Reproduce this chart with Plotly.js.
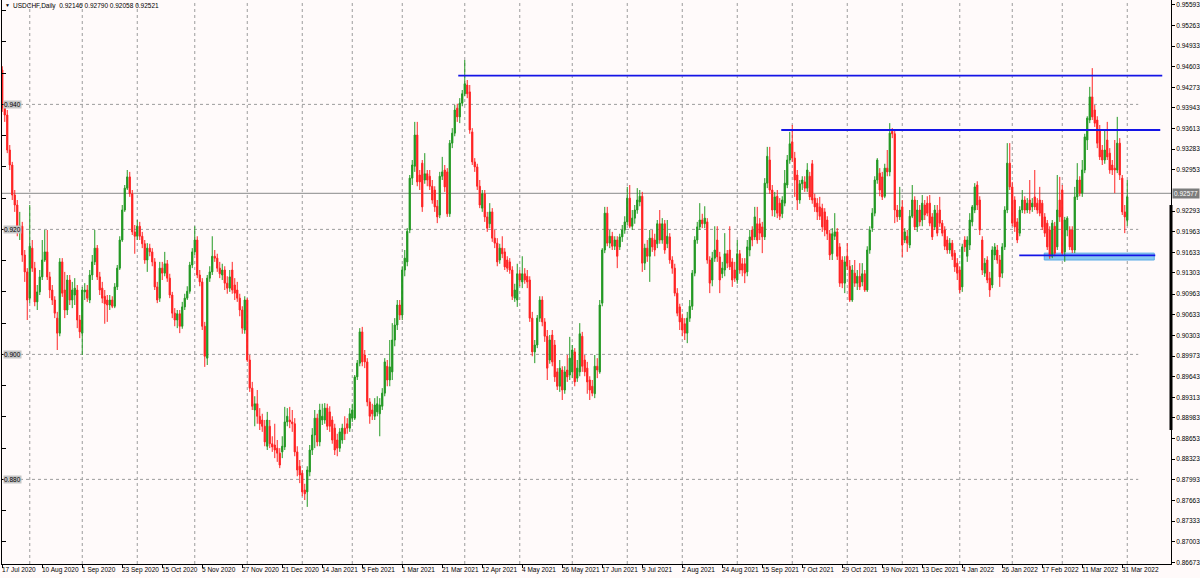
<!DOCTYPE html>
<html><head><meta charset="utf-8">
<script src="https://cdn.plot.ly/plotly-3.0.1.min.js"></script>
<style>html,body{margin:0;padding:0;background:#fffafa;}#chart{width:1200px;height:578px;}</style>
</head><body><div id="chart"></div>
<script>
const symbolTitle = 'USDCHF,Daily';
const lastBarOHLC = ['0.92146', '0.92790', '0.92058', '0.92521'];

const open = [
0.9455,0.9394,0.9383,0.9327,0.9303,0.9255,0.9239,0.9196,0.9205,0.9159,
0.9132,0.9090,0.9170,0.9138,0.9084,0.9100,0.9124,0.9151,0.9164,0.9124,
0.9103,0.9087,0.9058,0.9034,0.9148,0.9103,0.9071,0.9119,0.9087,0.9095,
0.9103,0.9055,0.9034,0.9100,0.9103,0.9087,0.9127,0.9148,0.9170,0.9124,
0.9106,0.9093,0.9087,0.9079,0.9087,0.9077,0.9108,0.9138,0.9183,0.9231,
0.9266,0.9284,0.9257,0.9196,0.9189,0.9205,0.9189,0.9177,0.9151,0.9170,
0.9164,0.9148,0.9108,0.9090,0.9138,0.9130,0.9145,0.9122,0.9095,0.9066,
0.9055,0.9065,0.9045,0.9076,0.9090,0.9101,0.9143,0.9164,0.9183,0.9127,
0.9116,0.9045,0.8994,0.9122,0.9132,0.9157,0.9154,0.9138,0.9127,0.9135,
0.9114,0.9106,0.9135,0.9111,0.9103,0.9090,0.9071,0.9039,0.9087,0.8991,
0.8946,0.8911,0.8921,0.8901,0.8895,0.8885,0.8853,0.8885,0.8857,0.8855,
0.8850,0.8842,0.8844,0.8852,0.8892,0.8895,0.8892,0.8889,0.8844,0.8821,
0.8810,0.8783,0.8780,0.8812,0.8847,0.8871,0.8898,0.8860,0.8895,0.8895,
0.8914,0.8908,0.8895,0.8882,0.8863,0.8850,0.8863,0.8882,0.8889,0.8882,
0.8898,0.8898,0.8964,0.8986,0.9036,0.8999,0.8988,0.8924,0.8911,0.8901,
0.8908,0.8905,0.8917,0.8938,0.8981,0.8959,0.8972,0.9023,0.9047,0.9079,
0.9063,0.9135,0.9148,0.9199,0.9282,0.9301,0.9351,0.9287,0.9306,0.9279,
0.9289,0.9285,0.9269,0.9263,0.9237,0.9223,0.9285,0.9295,0.9292,0.9225,
0.9338,0.9354,0.9394,0.9380,0.9402,0.9417,0.9431,0.9420,0.9356,0.9308,
0.9300,0.9269,0.9234,0.9257,0.9220,0.9209,0.9228,0.9186,0.9178,0.9151,
0.9170,0.9164,0.9151,0.9148,0.9135,0.9090,0.9087,0.9129,0.9116,0.9129,
0.9125,0.9119,0.9058,0.9004,0.9015,0.9058,0.9087,0.9052,0.9029,0.8991,
0.9031,0.9015,0.8972,0.8949,0.8975,0.8943,0.8975,0.8967,0.8972,0.9004,
0.8962,0.8972,0.9029,0.8991,0.8978,0.8959,0.8949,0.8937,0.8981,0.8972,
0.9082,0.9167,0.9226,0.9178,0.9189,0.9173,0.9183,0.9172,0.9188,0.9199,
0.9212,0.9250,0.9205,0.9218,0.9231,0.9244,0.9253,0.9146,0.9170,0.9157,
0.9186,0.9183,0.9177,0.9209,0.9183,0.9209,0.9177,0.9188,0.9151,0.9138,
0.9098,0.9076,0.9058,0.9049,0.9034,0.9058,0.9077,0.9130,0.9183,0.9204,
0.9215,0.9209,0.9212,0.9151,0.9119,0.9154,0.9183,0.9156,0.9129,0.9135,
0.9161,0.9167,0.9148,0.9135,0.9119,0.9161,0.9145,0.9145,0.9132,0.9167,
0.9199,0.9188,0.9209,0.9209,0.9204,0.9188,0.9274,0.9311,0.9263,0.9231,
0.9253,0.9242,0.9225,0.9242,0.9271,0.9311,0.9340,0.9314,0.9287,0.9247,
0.9273,0.9276,0.9266,0.9285,0.9305,0.9250,0.9242,0.9236,0.9234,0.9228,
0.9215,0.9193,0.9161,0.9189,0.9196,0.9172,0.9151,0.9114,0.9157,0.9141,
0.9087,0.9130,0.9114,0.9125,0.9116,0.9129,0.9103,0.9167,0.9202,0.9226,
0.9279,0.9290,0.9284,0.9253,0.9298,0.9292,0.9357,0.9353,0.9231,0.9220,
0.9236,0.9183,0.9189,0.9175,0.9221,0.9247,0.9204,0.9231,0.9215,0.9239,
0.9242,0.9242,0.9220,0.9204,0.9226,0.9231,0.9210,0.9199,0.9183,0.9167,
0.9178,0.9162,0.9146,0.9135,0.9108,0.9183,0.9157,0.9175,0.9212,0.9231,
0.9271,0.9247,0.9183,0.9130,0.9151,0.9122,0.9111,0.9159,0.9167,0.9151,
0.9130,0.9172,0.9231,0.9306,0.9268,0.9247,0.9212,0.9194,0.9231,0.9247,
0.9231,0.9247,0.9236,0.9252,0.9242,0.9247,0.9242,0.9220,0.9210,0.9199,
0.9157,0.9205,0.9172,0.9247,0.9263,0.9164,0.9199,0.9199,0.9199,0.9167,
0.9252,0.9279,0.9258,0.9295,0.9343,0.9375,0.9412,0.9391,0.9375,0.9359,
0.9327,0.9311,0.9343,0.9322,0.9303,0.9298,0.9295,0.9338,0.9282,0.9228,
0.92146];

const high = [
0.9461,0.9404,0.9391,0.9335,0.9308,0.9263,0.9247,0.9228,0.9212,0.9167,
0.9138,0.9239,0.9183,0.9148,0.9111,0.9135,0.9183,0.9199,0.9199,0.9132,
0.9111,0.9093,0.9068,0.9154,0.9154,0.9132,0.9127,0.9127,0.9116,0.9122,
0.9111,0.9063,0.9108,0.9114,0.9111,0.9135,0.9159,0.9199,0.9175,0.9132,
0.9116,0.9103,0.9095,0.9095,0.9093,0.9114,0.9143,0.9189,0.9239,0.9271,
0.9295,0.9292,0.9263,0.9207,0.9215,0.9212,0.9196,0.9183,0.9178,0.9177,
0.9170,0.9154,0.9116,0.9148,0.9148,0.9164,0.9151,0.9129,0.9100,0.9074,
0.9071,0.9071,0.9084,0.9097,0.9109,0.9148,0.9170,0.9205,0.9189,0.9135,
0.9122,0.9052,0.9127,0.9141,0.9189,0.9167,0.9161,0.9148,0.9145,0.9141,
0.9125,0.9135,0.9148,0.9122,0.9116,0.9097,0.9077,0.9093,0.9090,0.8999,
0.8956,0.8933,0.8943,0.8914,0.8905,0.8895,0.8908,0.8895,0.8869,0.8889,
0.8863,0.8850,0.8869,0.8916,0.8914,0.8916,0.8911,0.8898,0.8853,0.8831,
0.8815,0.8793,0.8821,0.8855,0.8882,0.8911,0.8905,0.8921,0.8921,0.8922,
0.8921,0.8917,0.8901,0.8889,0.8873,0.8882,0.8889,0.8901,0.8898,0.8914,
0.8921,0.8967,0.8991,0.9042,0.9044,0.9007,0.8994,0.8930,0.8921,0.8930,
0.8933,0.8930,0.8946,0.8994,0.8991,0.9023,0.9050,0.9058,0.9087,0.9087,
0.9141,0.9167,0.9202,0.9287,0.9311,0.9372,0.9372,0.9295,0.9311,0.9322,
0.9295,0.9295,0.9279,0.9269,0.9247,0.9292,0.9316,0.9303,0.9298,0.9343,
0.9362,0.9399,0.9401,0.9410,0.9423,0.9471,0.9439,0.9431,0.9362,0.9314,
0.9305,0.9279,0.9263,0.9263,0.9228,0.9242,0.9234,0.9199,0.9186,0.9177,
0.9189,0.9170,0.9157,0.9154,0.9141,0.9113,0.9145,0.9135,0.9157,0.9138,
0.9135,0.9125,0.9068,0.9023,0.9063,0.9093,0.9093,0.9058,0.9039,0.9031,
0.9039,0.9023,0.8978,0.8991,0.8981,0.8981,0.8999,0.9028,0.9015,0.9010,
0.8991,0.9050,0.9036,0.8999,0.8988,0.8965,0.8959,0.8999,0.8994,0.9087,
0.9170,0.9236,0.9236,0.9199,0.9196,0.9189,0.9189,0.9193,0.9207,0.9221,
0.9268,0.9271,0.9231,0.9239,0.9266,0.9263,0.9260,0.9177,0.9183,0.9199,
0.9199,0.9193,0.9215,0.9231,0.9218,0.9215,0.9215,0.9194,0.9157,0.9145,
0.9106,0.9081,0.9065,0.9058,0.9068,0.9087,0.9135,0.9189,0.9212,0.9242,
0.9225,0.9237,0.9218,0.9157,0.9164,0.9205,0.9205,0.9164,0.9148,0.9194,
0.9167,0.9205,0.9154,0.9148,0.9183,0.9167,0.9154,0.9154,0.9183,0.9199,
0.9205,0.9236,0.9236,0.9218,0.9212,0.9282,0.9332,0.9332,0.9271,0.9260,
0.9263,0.9250,0.9253,0.9295,0.9319,0.9356,0.9367,0.9324,0.9295,0.9279,
0.9285,0.9285,0.9306,0.9292,0.9311,0.9257,0.9250,0.9252,0.9241,0.9234,
0.9221,0.9199,0.9202,0.9226,0.9202,0.9178,0.9157,0.9157,0.9178,0.9151,
0.9143,0.9151,0.9135,0.9146,0.9146,0.9135,0.9173,0.9205,0.9234,0.9285,
0.9314,0.9298,0.9292,0.9305,0.9327,0.9370,0.9362,0.9359,0.9239,0.9268,
0.9247,0.9202,0.9199,0.9231,0.9271,0.9253,0.9247,0.9239,0.9255,0.9247,
0.9253,0.9255,0.9226,0.9239,0.9239,0.9252,0.9215,0.9205,0.9189,0.9186,
0.9183,0.9167,0.9154,0.9141,0.9177,0.9189,0.9189,0.9226,0.9239,0.9274,
0.9277,0.9253,0.9189,0.9154,0.9157,0.9132,0.9173,0.9178,0.9175,0.9159,
0.9178,0.9237,0.9338,0.9338,0.9276,0.9253,0.9218,0.9237,0.9263,0.9253,
0.9250,0.9279,0.9250,0.9295,0.9250,0.9268,0.9247,0.9226,0.9215,0.9205,
0.9215,0.9212,0.9287,0.9284,0.9271,0.9220,0.9221,0.9205,0.9205,0.9268,
0.9306,0.9285,0.9311,0.9353,0.9381,0.9428,0.9458,0.9399,0.9381,0.9367,
0.9335,0.9359,0.9372,0.9330,0.9311,0.9343,0.9380,0.9346,0.9287,0.9239,
0.92790];

const low = [
0.9388,0.9372,0.9322,0.9295,0.9247,0.9228,0.9189,0.9183,0.9148,0.9116,
0.9055,0.9082,0.9132,0.9077,0.9071,0.9095,0.9119,0.9148,0.9119,0.9090,
0.9079,0.9058,0.9007,0.9029,0.9092,0.9058,0.9063,0.9079,0.9074,0.9079,
0.9042,0.9026,0.8999,0.9087,0.9084,0.9082,0.9119,0.9143,0.9119,0.9095,
0.9082,0.9049,0.9052,0.9071,0.9074,0.9074,0.9103,0.9135,0.9180,0.9228,
0.9263,0.9252,0.9191,0.9161,0.9183,0.9183,0.9170,0.9145,0.9132,0.9157,
0.9141,0.9103,0.9082,0.9084,0.9119,0.9125,0.9116,0.9090,0.9058,0.9045,
0.9042,0.9034,0.9041,0.9071,0.9087,0.9097,0.9138,0.9159,0.9122,0.9109,
0.9039,0.8980,0.8983,0.9116,0.9127,0.9148,0.9132,0.9122,0.9119,0.9103,
0.9097,0.9100,0.9097,0.9087,0.9084,0.9061,0.9033,0.9033,0.8988,0.8940,
0.8911,0.8885,0.8889,0.8879,0.8876,0.8853,0.8847,0.8850,0.8844,0.8834,
0.8828,0.8818,0.8834,0.8847,0.8885,0.8882,0.8876,0.8837,0.8805,0.8794,
0.8773,0.8767,0.8756,0.8805,0.8839,0.8850,0.8853,0.8853,0.8887,0.8889,
0.8879,0.8876,0.8857,0.8839,0.8837,0.8844,0.8857,0.8863,0.8873,0.8876,
0.8892,0.8895,0.8959,0.8981,0.8981,0.8978,0.8917,0.8889,0.8895,0.8895,
0.8901,0.8869,0.8911,0.8933,0.8949,0.8949,0.8959,0.9013,0.9039,0.9055,
0.9055,0.9125,0.9141,0.9194,0.9271,0.9292,0.9269,0.9263,0.9228,0.9273,
0.9269,0.9263,0.9241,0.9228,0.9210,0.9218,0.9279,0.9260,0.9220,0.9220,
0.9330,0.9349,0.9372,0.9370,0.9397,0.9413,0.9410,0.9353,0.9303,0.9292,
0.9263,0.9234,0.9228,0.9212,0.9196,0.9202,0.9180,0.9170,0.9141,0.9145,
0.9154,0.9135,0.9132,0.9129,0.9087,0.9084,0.9076,0.9109,0.9106,0.9113,
0.9106,0.9052,0.8997,0.8986,0.9010,0.9052,0.9045,0.9020,0.8959,0.8985,
0.8981,0.8956,0.8943,0.8940,0.8927,0.8937,0.8956,0.8959,0.8962,0.8949,
0.8956,0.8965,0.8972,0.8965,0.8937,0.8927,0.8933,0.8930,0.8962,0.8969,
0.9077,0.9162,0.9173,0.9170,0.9167,0.9167,0.9138,0.9167,0.9180,0.9193,
0.9207,0.9202,0.9199,0.9209,0.9225,0.9237,0.9132,0.9135,0.9148,0.9116,
0.9164,0.9157,0.9170,0.9177,0.9177,0.9161,0.9170,0.9145,0.9129,0.9093,
0.9061,0.9039,0.9029,0.9023,0.9018,0.9052,0.9071,0.9125,0.9177,0.9199,
0.9202,0.9202,0.9145,0.9098,0.9109,0.9148,0.9148,0.9098,0.9122,0.9125,
0.9138,0.9135,0.9108,0.9116,0.9113,0.9129,0.9125,0.9114,0.9125,0.9157,
0.9173,0.9183,0.9177,0.9183,0.9162,0.9183,0.9266,0.9257,0.9221,0.9220,
0.9218,0.9215,0.9218,0.9237,0.9266,0.9305,0.9308,0.9252,0.9231,0.9241,
0.9263,0.9260,0.9260,0.9247,0.9241,0.9228,0.9215,0.9215,0.9196,0.9189,
0.9183,0.9151,0.9151,0.9183,0.9151,0.9108,0.9106,0.9098,0.9135,0.9084,
0.9084,0.9108,0.9103,0.9103,0.9109,0.9100,0.9100,0.9161,0.9196,0.9221,
0.9273,0.9253,0.9247,0.9250,0.9285,0.9285,0.9346,0.9210,0.9212,0.9215,
0.9156,0.9178,0.9164,0.9170,0.9218,0.9199,0.9196,0.9205,0.9205,0.9215,
0.9221,0.9205,0.9183,0.9199,0.9189,0.9204,0.9189,0.9167,0.9161,0.9161,
0.9151,0.9132,0.9119,0.9098,0.9100,0.9164,0.9148,0.9167,0.9205,0.9226,
0.9231,0.9191,0.9127,0.9124,0.9114,0.9092,0.9106,0.9151,0.9145,0.9108,
0.9122,0.9167,0.9226,0.9263,0.9205,0.9196,0.9178,0.9189,0.9226,0.9225,
0.9226,0.9225,0.9228,0.9231,0.9225,0.9221,0.9199,0.9188,0.9167,0.9153,
0.9154,0.9157,0.9167,0.9212,0.9159,0.9148,0.9189,0.9167,0.9162,0.9162,
0.9247,0.9253,0.9252,0.9290,0.9327,0.9370,0.9375,0.9364,0.9330,0.9311,
0.9303,0.9305,0.9311,0.9289,0.9287,0.9258,0.9290,0.9279,0.9223,0.9194,
0.92058];

const close = [
0.9394,0.9383,0.9327,0.9303,0.9255,0.9239,0.9196,0.9205,0.9159,0.9132,
0.9087,0.9173,0.9138,0.9084,0.9100,0.9124,0.9151,0.9164,0.9124,0.9103,
0.9087,0.9066,0.9034,0.9148,0.9098,0.9071,0.9119,0.9087,0.9103,0.9106,
0.9055,0.9036,0.9103,0.9103,0.9090,0.9127,0.9148,0.9170,0.9124,0.9103,
0.9090,0.9081,0.9079,0.9087,0.9077,0.9108,0.9138,0.9183,0.9231,0.9266,
0.9284,0.9257,0.9196,0.9189,0.9205,0.9189,0.9177,0.9151,0.9170,0.9164,
0.9148,0.9108,0.9087,0.9138,0.9130,0.9145,0.9122,0.9095,0.9066,0.9055,
0.9065,0.9045,0.9076,0.9090,0.9101,0.9143,0.9164,0.9183,0.9127,0.9116,
0.9045,0.8997,0.9122,0.9132,0.9157,0.9154,0.9138,0.9129,0.9135,0.9114,
0.9106,0.9124,0.9103,0.9098,0.9090,0.9071,0.9042,0.9087,0.8991,0.8946,
0.8917,0.8921,0.8901,0.8889,0.8885,0.8860,0.8895,0.8857,0.8852,0.8847,
0.8842,0.8823,0.8853,0.8892,0.8901,0.8892,0.8889,0.8844,0.8815,0.8807,
0.8780,0.8777,0.8815,0.8847,0.8871,0.8898,0.8860,0.8911,0.8901,0.8914,
0.8885,0.8885,0.8863,0.8847,0.8850,0.8876,0.8882,0.8873,0.8882,0.8905,
0.8911,0.8964,0.8986,0.9036,0.8988,0.8988,0.8924,0.8901,0.8905,0.8919,
0.8921,0.8919,0.8938,0.8988,0.8959,0.8980,0.9023,0.9047,0.9079,0.9063,
0.9135,0.9154,0.9197,0.9282,0.9303,0.9351,0.9276,0.9276,0.9236,0.9289,
0.9279,0.9269,0.9247,0.9236,0.9220,0.9285,0.9292,0.9268,0.9225,0.9338,
0.9354,0.9391,0.9380,0.9402,0.9417,0.9433,0.9417,0.9359,0.9308,0.9300,
0.9269,0.9239,0.9257,0.9220,0.9202,0.9228,0.9186,0.9178,0.9148,0.9170,
0.9161,0.9140,0.9138,0.9135,0.9093,0.9103,0.9129,0.9119,0.9129,0.9119,
0.9116,0.9058,0.9004,0.9015,0.9058,0.9087,0.9052,0.9029,0.8978,0.9023,
0.8988,0.8964,0.8949,0.8978,0.8943,0.8972,0.8964,0.8994,0.9007,0.8956,
0.8978,0.9033,0.8981,0.8972,0.8956,0.8943,0.8938,0.8981,0.8975,0.9079,
0.9167,0.9226,0.9178,0.9189,0.9173,0.9183,0.9157,0.9188,0.9199,0.9212,
0.9250,0.9205,0.9218,0.9231,0.9247,0.9253,0.9146,0.9170,0.9157,0.9186,
0.9172,0.9167,0.9209,0.9183,0.9209,0.9167,0.9189,0.9151,0.9138,0.9098,
0.9066,0.9052,0.9039,0.9034,0.9058,0.9077,0.9130,0.9183,0.9204,0.9215,
0.9209,0.9218,0.9151,0.9114,0.9154,0.9167,0.9156,0.9119,0.9138,0.9161,
0.9146,0.9140,0.9119,0.9122,0.9161,0.9135,0.9135,0.9130,0.9172,0.9188,
0.9183,0.9220,0.9183,0.9194,0.9188,0.9274,0.9317,0.9263,0.9231,0.9252,
0.9226,0.9221,0.9247,0.9274,0.9311,0.9337,0.9314,0.9279,0.9247,0.9273,
0.9279,0.9266,0.9295,0.9252,0.9247,0.9236,0.9228,0.9221,0.9204,0.9199,
0.9193,0.9159,0.9193,0.9196,0.9157,0.9114,0.9114,0.9148,0.9141,0.9087,
0.9135,0.9114,0.9125,0.9108,0.9129,0.9103,0.9167,0.9199,0.9226,0.9279,
0.9311,0.9263,0.9252,0.9298,0.9292,0.9354,0.9353,0.9231,0.9220,0.9231,
0.9175,0.9196,0.9178,0.9221,0.9247,0.9204,0.9231,0.9212,0.9242,0.9223,
0.9226,0.9210,0.9188,0.9231,0.9194,0.9210,0.9194,0.9173,0.9167,0.9178,
0.9157,0.9140,0.9130,0.9103,0.9172,0.9172,0.9183,0.9215,0.9236,0.9268,
0.9239,0.9199,0.9135,0.9146,0.9119,0.9103,0.9167,0.9172,0.9151,0.9124,
0.9172,0.9231,0.9306,0.9268,0.9210,0.9204,0.9183,0.9231,0.9247,0.9231,
0.9242,0.9231,0.9242,0.9236,0.9231,0.9226,0.9204,0.9194,0.9172,0.9157,
0.9210,0.9162,0.9231,0.9220,0.9162,0.9215,0.9218,0.9172,0.9167,0.9252,
0.9279,0.9258,0.9295,0.9348,0.9378,0.9412,0.9380,0.9370,0.9338,0.9316,
0.9311,0.9327,0.9316,0.9295,0.9295,0.9295,0.9338,0.9287,0.9228,0.9220,
0.92521];

const dateLabels = ['17 Jul 2020','10 Aug 2020','1 Sep 2020','23 Sep 2020','15 Oct 2020','5 Nov 2020',
  '27 Nov 2020','21 Dec 2020','14 Jan 2021','5 Feb 2021','1 Mar 2021','21 Mar 2021','12 Apr 2021',
  '4 May 2021','26 May 2021','17 Jun 2021','9 Jul 2021','2 Aug 2021','24 Aug 2021','15 Sep 2021',
  '7 Oct 2021','29 Oct 2021','19 Nov 2021','13 Dec 2021','4 Jan 2022','26 Jan 2022','17 Feb 2022',
  '11 Mar 2022','31 Mar 2022'];
const dateLabelBars = [0,16,32,48,64,80,96,112,128,144,160,176,192,208,224,240,256,272,288,304,320,336,352,368,384,400,416,432,448];
const monthStartBars = [11,32,54,77,98,120,140,160,185,207,228,250,272,294,316,338,360,383,404,424,450];

// 0.92623 sits behind the current-price box in the reference, so it is not listed
const priceTickValues = [0.95593,0.95263,0.94933,0.94603,0.94273,0.93943,0.93613,0.93283,0.92953,
  0.92293,0.91963,0.91633,0.91303,0.90963,0.90633,0.90303,0.89973,0.89643,0.89313,0.88983,0.88653,
  0.88323,0.87993,0.87663,0.87333,0.87003,0.86673];
const leftTickValues = [0.955,0.950,0.945,0.940,0.935,0.930,0.925,0.920,0.915,0.910,0.905,0.900,0.895,0.890,0.885,0.880,0.875,0.870];
const levelPrices = [0.940, 0.920, 0.900, 0.880];
const levelLabels = ['0.940', '0.920', '0.900', '0.880'];
const levelEndBar = 454.4;
const askPrice = 0.92577;
const askLabel = '0.92577';
const trendPrices = [0.9446, 0.9359, 0.91585];
const trendStartBars = [182.4, 311.6, 406.8];
const trendEndBars = [464.0, 463.2, 461.2];
const zoneLow = 0.9151, zoneHigh = 0.9162, zoneStartBar = 416.8, zoneEndBar = 460.8;
const scaleBarTop = 0.9239, scaleBarBottom = 0.8879;

const bars = open.map((_, i) => i);
const FONT = 'Liberation Sans, Arial, sans-serif';
const yRange = [0.86646, 0.9567];
const xRange = [-0.1, 467.5];

const traces = [
  {
    type: 'candlestick', x: bars, open: open, high: high, low: low, close: close,
    increasing: {line: {color: '#239a23', width: 1}, fillcolor: '#0b870b'},
    decreasing: {line: {color: '#ff2626', width: 1}, fillcolor: '#ff0000'},
    whiskerwidth: 0, hoverinfo: 'skip', showlegend: false
  },
  {type: 'scatter', mode: 'none', x: bars, y: close, yaxis: 'y2', hoverinfo: 'skip', showlegend: false}
];

const shapes = [];
monthStartBars.forEach(b => shapes.push({type: 'line', xref: 'x', yref: 'paper', x0: b, x1: b, y0: 0, y1: 1,
  line: {color: '#9c9c9c', width: 1, dash: 'dot'}, layer: 'below'}));
levelPrices.forEach(p => shapes.push({type: 'line', xref: 'x', yref: 'y', x0: xRange[0], x1: levelEndBar, y0: p, y1: p,
  line: {color: '#9c9c9c', width: 1, dash: 'dot'}, layer: 'below'}));
shapes.push({type: 'line', xref: 'paper', yref: 'y', x0: 0, x1: 1, y0: askPrice, y1: askPrice,
  line: {color: '#a0a0a0', width: 1.3}, layer: 'below'});
shapes.push({type: 'rect', xref: 'x', yref: 'y', x0: zoneStartBar, x1: zoneEndBar, y0: zoneLow, y1: zoneHigh,
  fillcolor: '#87c8f0', line: {color: '#5aaae6', width: 1}, layer: 'below'});
trendPrices.forEach((p, k) => shapes.push({type: 'line', xref: 'x', yref: 'y', x0: trendStartBars[k], x1: trendEndBars[k],
  y0: p, y1: p, line: {color: '#1414e6', width: 1.8}, layer: 'above'}));
shapes.push({type: 'line', xref: 'paper', yref: 'y', x0: 1, x1: 1, y0: scaleBarBottom, y1: scaleBarTop,
  line: {color: '#000000', width: 3}});

const annotations = [];
annotations.push({xref: 'paper', yref: 'paper', x: 0, y: 1, xanchor: 'left', yanchor: 'top', xshift: 1, yshift: 0,
  text: '\u25BC', showarrow: false, font: {family: FONT, size: 5, color: '#000'}});
annotations.push({xref: 'paper', yref: 'paper', x: 0, y: 1, xanchor: 'left', yanchor: 'top', xshift: 9, yshift: 0,
  text: symbolTitle + '  ' + lastBarOHLC.join(' '), showarrow: false, font: {family: FONT, size: 6.5, color: '#000'}});
dateLabels.forEach((t, k) => annotations.push({xref: 'x', yref: 'paper', x: dateLabelBars[k], y: 0,
  xanchor: 'left', yanchor: 'top', xshift: -2, yshift: 0, text: t, showarrow: false,
  font: {family: FONT, size: 6.5, color: '#000'}}));
levelPrices.forEach((p, k) => annotations.push({xref: 'paper', yref: 'y', x: 0, y: p, xanchor: 'left', yanchor: 'middle',
  xshift: 1, text: levelLabels[k], showarrow: false, bgcolor: '#c6c6c6', borderpad: 0,
  font: {family: FONT, size: 6.5, color: '#000'}}));
annotations.push({xref: 'paper', yref: 'y', x: 1, y: askPrice, xanchor: 'left', yanchor: 'middle', xshift: 1,
  text: askLabel, showarrow: false, bgcolor: '#7c7c7c', borderpad: 1,
  font: {family: FONT, size: 6.5, color: '#ffffff'}});

const layout = {
  width: 1200, height: 578,
  margin: {l: 2, r: 29, t: 0, b: 14, pad: 0},
  paper_bgcolor: '#fffafa', plot_bgcolor: '#fffafa',
  showlegend: false,
  font: {family: FONT, size: 6.5, color: '#000'},
  xaxis: {range: xRange, showgrid: false, zeroline: false, showline: true, linecolor: '#000', linewidth: 1,
    ticks: 'outside', ticklen: 3, tickcolor: '#000', tickvals: dateLabelBars, showticklabels: false,
    rangeslider: {visible: false}, fixedrange: true},
  yaxis: {range: yRange, side: 'right', showgrid: false, zeroline: false, showline: true, linecolor: '#000', linewidth: 1,
    ticks: 'outside', ticklen: 3, tickcolor: '#000', tickvals: priceTickValues,
    ticktext: priceTickValues.map(v => v.toFixed(5)), tickfont: {family: FONT, size: 6.5, color: '#000'}, fixedrange: true},
  yaxis2: {range: yRange, overlaying: 'y', side: 'left', showgrid: false, zeroline: false, showline: true,
    linecolor: '#000', linewidth: 1, ticks: 'inside', ticklen: 4, tickcolor: '#000', tickvals: leftTickValues,
    showticklabels: false, fixedrange: true},
  shapes: shapes,
  annotations: annotations
};

Plotly.newPlot('chart', traces, layout, {staticPlot: true, displayModeBar: false});
</script>
</body></html>
